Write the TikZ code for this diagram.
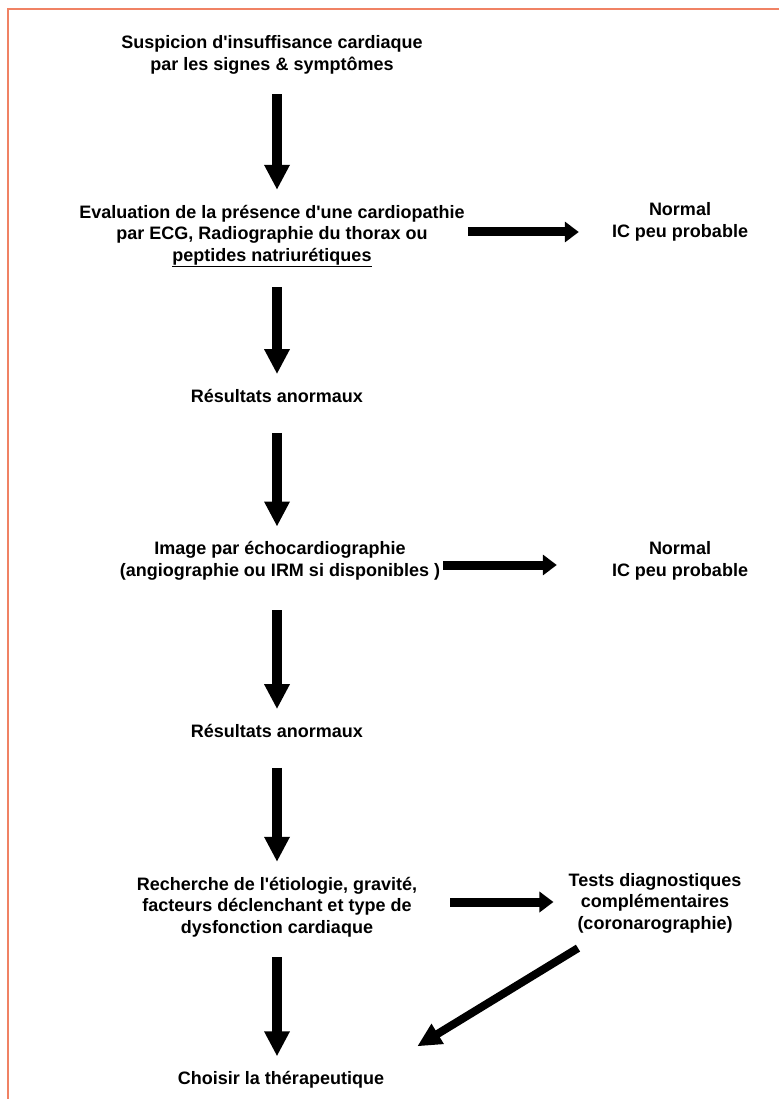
\documentclass[tikz,border=0pt]{standalone}
\usepackage{fontspec}
\setmainfont{Liberation Sans}
\usetikzlibrary{arrows.meta,calc}
\definecolor{bordercol}{RGB}{240,130,100}
\newcommand{\apos}{\textquotesingle}
\begin{document}
\begin{tikzpicture}[x=1pt,y=-1pt,
  txt/.style={font=\fontsize{18}{21.5}\selectfont\bfseries, align=center, inner sep=0pt},
  varrow/.style={line width=10pt, -{Triangle[length=25pt,width=24pt]}},
  harrow/.style={line width=9pt, -{Triangle[length=14pt,width=20pt]}},
  darrow/.style={line width=8pt, -{Triangle[length=24pt,width=22pt]}}]
\useasboundingbox (0,0) rectangle (779,1099);
\draw[bordercol, line width=2pt] (779,9) -- (8,9) -- (8,1099);

\node[txt] (n1) at (272,55) {Suspicion d\apos insuffisance cardiaque\\par les signes \& symptômes};
\node[txt] (n2) at (272,236) {Evaluation de la présence d\apos une cardiopathie\\par ECG, Radiographie du thorax ou\\\underline{peptides natriurétiques}};
\node[txt] (nm1) at (680,222) {Normal\\IC peu probable};
\node[txt] (r1) at (277,396) {Résultats anormaux};
\node[txt] (n3) at (280,561) {Image par échocardiographie\\(angiographie ou IRM si disponibles )};
\node[txt] (nm2) at (680,561) {Normal\\IC peu probable};
\node[txt] (r2) at (277,731) {Résultats anormaux};
\node[txt] (n4) at (277,907) {Recherche de l\apos étiologie, gravité,\\facteurs déclenchant et type de\\dysfonction cardiaque};
\node[txt] (t) at (655,903) {Tests diagnostiques\\complémentaires\\(coronarographie)};
\node[txt] (f) at (281,1080) {Choisir la thérapeutique};

\draw[varrow] ($(n1.south)+(5,20)$) -- ($(n2.north)+(5,-15)$);
\draw[varrow] ($(n2.south)+(5,20)$) -- ($(r1.north)+(0,-15)$);
\draw[varrow] ($(r1.south)+(0,30)$) -- ($(n3.north)+(-3,-15)$);
\draw[varrow] ($(n3.south)+(-3,30)$) -- ($(r2.north)+(0,-15)$);
\draw[varrow] ($(r2.south)+(0,30)$) -- ($(n4.north)+(0,-15)$);
\draw[varrow] ($(n4.south)+(0,20)$) -- ($(f.north)+(-4,-15)$);

\draw[harrow] ($(n2.east)+(3,-4)$) -- ($(n2.east -| nm1.west)+(-33,-4)$);
\draw[harrow] ($(n3.east)+(3,4)$) -- ($(n3.east -| nm2.west)+(-55,4)$);
\draw[harrow] ($(n4.east)+(33,-5)$) -- ($(n4.east -| t.west)+(-15,-5)$);
\draw[darrow] ($(t.south)+(-77,15)$) -- ($(f.north east)+(33,-25)$);
\end{tikzpicture}
\end{document}
